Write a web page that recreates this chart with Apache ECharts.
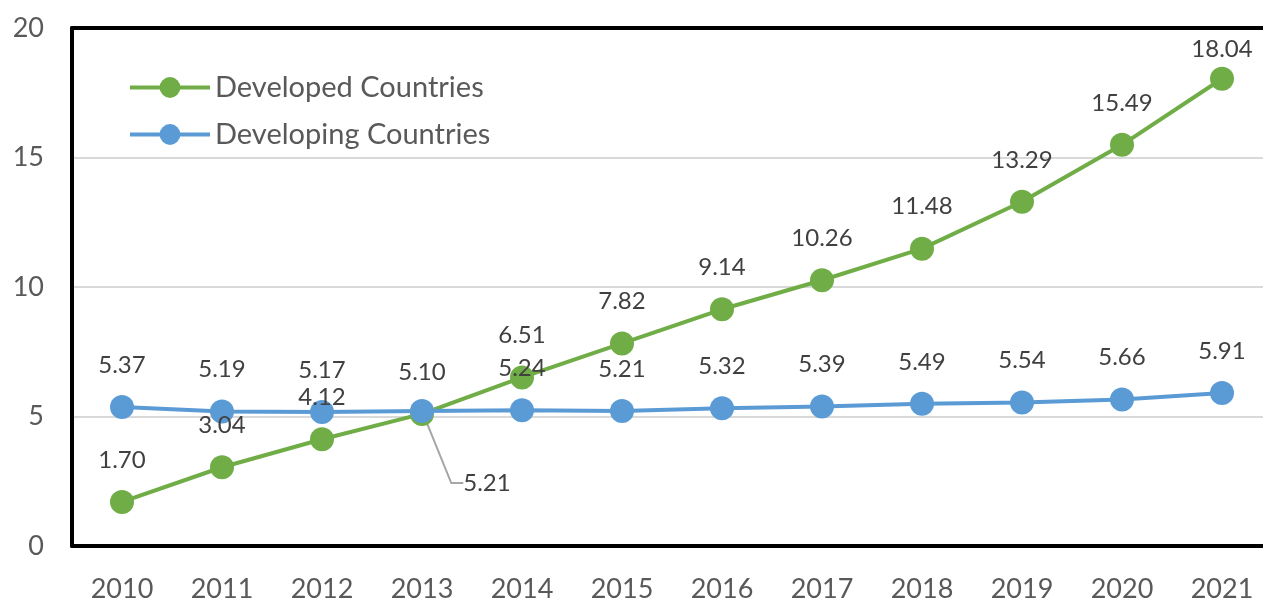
<!DOCTYPE html>
<html>
<head>
<meta charset="utf-8">
<script src="https://cdn.jsdelivr.net/npm/echarts@6/dist/echarts.min.js"></script>
<style>
  html, body { margin: 0; padding: 0; background: #fff; }
  #chart { width: 1263px; height: 598px; }
</style>
</head>
<body>
<div id="chart"></div>
<script>
const years = ['2010', '2011', '2012', '2013', '2014', '2015', '2016', '2017', '2018', '2019', '2020', '2021'];
const developed = [1.70, 3.04, 4.12, 5.10, 6.51, 7.82, 9.14, 10.26, 11.48, 13.29, 15.49, 18.04];
const developing = [5.37, 5.19, 5.17, 5.21, 5.24, 5.21, 5.32, 5.39, 5.49, 5.54, 5.66, 5.91];

const chart = echarts.init(document.getElementById('chart'));

const seriesItem = {
  type: 'line',
  symbol: 'circle',
  symbolSize: 24,
  lineStyle: { width: 4 },
  label: {
    show: true,
    position: 'top',
    distance: 18,
    fontFamily: 'Lato',
    fontSize: 24,
    color: '#404040',
    formatter: p => p.value.toFixed(2)
  }
};

chart.setOption({
  animation: false,
  grid: {
    left: 72,
    top: 28,
    width: 1200,
    height: 518,
    outerBoundsMode: 'none',
    containLabel: false
  },
  legend: {
    orient: 'vertical',
    left: 123,
    top: 68,
    itemWidth: 80,
    itemHeight: 26,
    itemGap: 18,
    lineStyle: { width: 4 },
    textStyle: { fontFamily: 'Lato', fontSize: 29, color: '#595959' },
    data: ['Developed Countries', 'Developing Countries']
  },
  xAxis: [
    {
      type: 'category',
      data: years,
      axisLine: { lineStyle: { color: '#000', width: 4 } },
      axisTick: { show: false },
      axisLabel: { fontFamily: 'Lato', fontSize: 27, color: '#595959', margin: 30 }
    },
    {
      type: 'category',
      position: 'top',
      data: years,
      axisLine: { lineStyle: { color: '#000', width: 4 } },
      axisTick: { show: false },
      axisLabel: { show: false }
    }
  ],
  yAxis: {
    type: 'value',
    min: 0,
    max: 20,
    interval: 5,
    axisLine: { show: true, lineStyle: { color: '#000', width: 4 } },
    axisLabel: { fontFamily: 'Lato', fontSize: 27, color: '#595959', margin: 28 },
    splitLine: { lineStyle: { color: '#d9d9d9', width: 2 } }
  },
  series: [
    {
      name: 'Developed Countries',
      data: developed.map((v, i) => i === developed.length - 1 ? { value: v, label: { distance: 5 } } : v),
      ...seriesItem,
      itemStyle: { color: '#70AD47' }
    },
    {
      name: 'Developing Countries',
      data: developing.map((v, i) => i === 3 ? { value: v, labelLine: { show: true } } : v),
      ...seriesItem,
      itemStyle: { color: '#5B9BD5' },
      labelLine: { show: false, length2: 12, lineStyle: { color: '#a6a6a6', width: 2 } },
      labelLayout: p => p.dataIndex === 3 ? { dx: 65, dy: 114 } : {}
    }
  ]
});
</script>
</body>
</html>
